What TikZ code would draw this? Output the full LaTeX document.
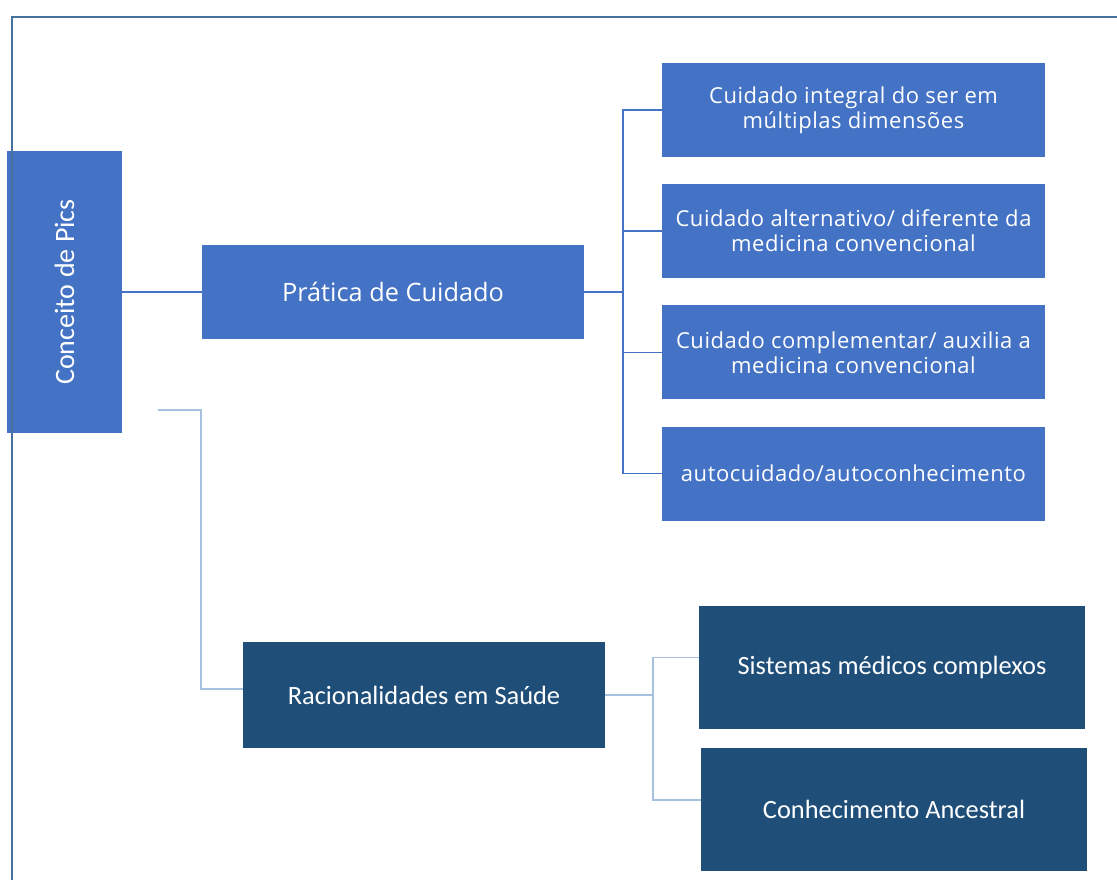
\documentclass[tikz,border=0pt]{standalone}
\usepackage{fontspec}
\setmainfont{Open Sans}
\newfontfamily\osw[LetterSpace=2.5]{Open Sans}
\newfontfamily\carl{Carlito}
\definecolor{midblue}{HTML}{4472C4}
\definecolor{darkblue}{HTML}{1F4E79}
\definecolor{framecol}{RGB}{70,114,160}
\definecolor{liteblue}{HTML}{A6C0DE}
\begin{document}
\begin{tikzpicture}[x=0.75pt,y=-0.75pt,
  midbox/.style={fill=midblue, text=white, inner sep=0pt, align=center},
  darkbox/.style={fill=darkblue, text=white, inner sep=0pt, align=center,
    font=\carl\fontsize{19.8}{24}\selectfont},
  rightbox/.style={midbox, minimum width=287.25pt, minimum height=70.5pt,
    font=\osw\fontsize{16.5}{18.75}\selectfont},
  topline/.style={draw=midblue, line width=1.1pt},
  lowline/.style={draw=liteblue, line width=1.4pt}]
\useasboundingbox (0,0) rectangle (1117,880);

% nodes
\node[midbox, minimum width=86.25pt, minimum height=211.5pt] (cp) at (64.5,292)
  {\rotatebox{90}{\carl\fontsize{21}{25}\selectfont Conceito de Pics}};
\node[midbox, minimum width=286.5pt, minimum height=70.5pt,
  font=\fontsize{19}{22}\selectfont] (pr) at (393,292) {Prática de Cuidado};
\node[rightbox] (r1) at (853.5,110) {Cuidado integral do ser em\\múltiplas dimensões};
\node[rightbox] (r2) at (853.5,231) {Cuidado alternativo/ diferente da\\medicina convencional};
\node[rightbox] (r3) at (853.5,352.5) {Cuidado complementar/ auxilia a\\medicina convencional};
\node[rightbox] (r4) at (853.5,473.5) {autocuidado/autoconhecimento};
\node[darkbox, minimum width=271.5pt, minimum height=79.5pt] (ra) at (424,695) {Racionalidades em Saúde};
\node[darkbox, minimum width=289.5pt, minimum height=92.25pt] (sm) at (892,667.5) {Sistemas médicos complexos};
\node[darkbox, minimum width=289.5pt, minimum height=92.25pt] (ca) at (894,809.5) {Conhecimento Ancestral};

% connectors top
\coordinate (bus) at (623,292);
\draw[topline] (cp.east) -- (pr.west);
\draw[topline] (pr.east) -- (bus);
\draw[topline] (bus) |- (r1.west);
\draw[topline] (bus) |- (r2.west);
\draw[topline] (bus) |- (r3.west);
\draw[topline] (bus) |- (r4.west);

% connectors bottom
\coordinate (rstart) at (158,410);
\coordinate (rbend) at (201,410);
\draw[lowline] (rstart) -- (rbend) |- ([yshift=4.5pt]ra.west);
\coordinate (lbus) at (653,695);
\draw[lowline] (ra.east) -- (lbus);
\draw[lowline] (lbus) |- ([yshift=7.5pt]sm.west);
\draw[lowline] (lbus) |- ([yshift=7pt]ca.west);

% frame
\draw[framecol, line width=2pt] (12,880) -- (12,17) -- (1117,17);
\end{tikzpicture}
\end{document}
